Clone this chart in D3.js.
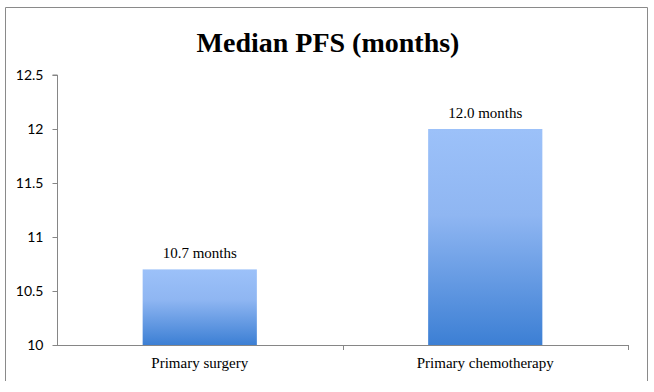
<!DOCTYPE html>
<html><head><meta charset="utf-8">
<script src="https://cdn.jsdelivr.net/npm/d3@7"></script>
<style>html,body{margin:0;padding:0;background:#fff;}</style>
</head><body>
<svg id="chart" width="654" height="392"></svg>
<script>
const categories = ["Primary surgery", "Primary chemotherapy"];
const values = [10.7, 12.0];
const valueLabels = ["10.7 months", "12.0 months"];
const yTicks = [10, 10.5, 11, 11.5, 12, 12.5];
const yTickLabels = ["10", "10.5", "11", "11.5", "12", "12.5"];
const title = "Median PFS (months)";

(function () {
const svg = d3.select("#chart");
const mLeft = 57, mRight = 628, mTop = 75, mBottom = 345;
const axisColor = "#868686";

// outer frame
svg.append("path").attr("d", "M5.5,381 V7.5 H647.5 V381")
  .attr("fill", "none").attr("stroke", "#8a8a8a").attr("stroke-width", 1);

const defs = svg.append("defs");
const grad = defs.append("linearGradient").attr("id", "barGrad")
  .attr("x1", 0).attr("y1", 0).attr("x2", 0).attr("y2", 1);
grad.append("stop").attr("offset", "0%").attr("stop-color", "#9cc1f9");
grad.append("stop").attr("offset", "40%").attr("stop-color", "#8fb6f2");
grad.append("stop").attr("offset", "100%").attr("stop-color", "#3c7fd4");

const x = d3.scaleBand().domain(categories).range([mLeft, mRight]).paddingInner(0.6).paddingOuter(0.3);
const xb = d3.scaleBand().domain(categories).range([mLeft, mRight]);
const y = d3.scaleLinear().domain([10, 12.5]).range([mBottom, mTop]);

svg.append("text").attr("x", 328).attr("y", 52).attr("text-anchor", "middle")
  .attr("font-family", "Liberation Serif, serif").attr("font-weight", "bold")
  .attr("font-size", 28).attr("fill", "#000").text(title);

// bars
svg.selectAll("rect.bar").data(values).enter().append("rect")
  .attr("class", "bar")
  .attr("x", (d, i) => x(categories[i]))
  .attr("width", x.bandwidth())
  .attr("y", d => y(d))
  .attr("height", d => y(10) - y(d))
  .attr("fill", "url(#barGrad)");

// value labels
svg.selectAll("text.vl").data(values).enter().append("text")
  .attr("class", "vl")
  .attr("x", (d, i) => x(categories[i]) + x.bandwidth() / 2)
  .attr("y", d => y(d) - 11)
  .attr("text-anchor", "middle")
  .attr("font-family", "Liberation Serif, serif").attr("font-size", 15)
  .attr("fill", "#000")
  .text((d, i) => valueLabels[i]);

// y axis
const yAxis = d3.axisLeft(y).tickValues(yTicks).tickFormat((d, i) => yTickLabels[i]).tickSize(5).tickPadding(9);
const gy = svg.append("g").attr("transform", `translate(${mLeft + 0.5},0)`).call(yAxis);
gy.select(".domain").attr("stroke", axisColor).attr("d", `M-5,${mTop}H0V${mBottom}`);
gy.selectAll(".tick line").attr("stroke", axisColor);
gy.selectAll(".tick text").attr("font-family", "Lato, sans-serif").attr("font-size", 14).attr("fill", "#000");

// x axis
const xAxis = d3.axisBottom(xb).tickSize(0).tickPadding(12);
const gx = svg.append("g").attr("transform", `translate(0,${mBottom + 0.5})`).call(xAxis);
gx.select(".domain").attr("stroke", axisColor).attr("d", `M${mLeft},0H${mRight}`);
gx.selectAll(".tick text").attr("font-family", "Liberation Serif, serif").attr("font-size", 15).attr("fill", "#000");
// category boundary ticks
const bounds = [xb(categories[1]), mRight];
svg.selectAll("line.bt").data(bounds).enter().append("line")
  .attr("x1", d => Math.round(d) + 0.5).attr("x2", d => Math.round(d) + 0.5)
  .attr("y1", mBottom).attr("y2", mBottom + 5)
  .attr("stroke", axisColor);
})();
</script>
</body></html>
